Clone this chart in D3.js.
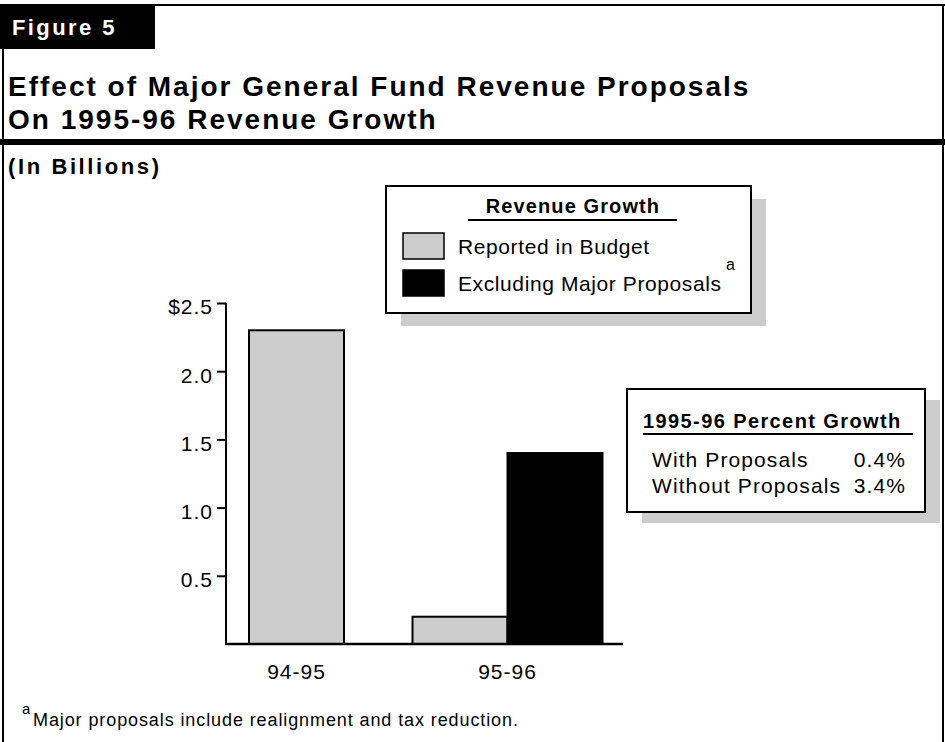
<!DOCTYPE html>
<html>
<head>
<meta charset="utf-8">
<script src="https://cdn.jsdelivr.net/npm/d3@7/dist/d3.min.js"></script>
<style>
  html, body { margin: 0; padding: 0; background: #fff; }
  svg { display: block; }
  text { font-family: "Liberation Sans", Arial, Helvetica, sans-serif; fill: #000; }
</style>
</head>
<body>
<svg id="chart" width="945" height="742"></svg>
<script>
// Fiscal years on the horizontal axis
const categories = ["94-95", "95-96"];
// Revenue growth, billions of dollars (null = not shown)
const reportedInBudget = [2.3, 0.2];
const excludingMajorProposals = [null, 1.4];
// Series names as shown in the legend
const seriesNames = ["Reported in Budget", "Excluding Major Proposals"];
// Y-axis ticks
const yTicks = [0.5, 1.0, 1.5, 2.0, 2.5];
const yTickLabels = ["0.5", "1.0", "1.5", "2.0", "$2.5"];
// Percent growth table
const growthLabels = ["With Proposals", "Without Proposals"];
const growthValues = ["0.4%", "3.4%"];

const series = [
  { name: seriesNames[0], values: reportedInBudget, fill: "#cccccc" },
  { name: seriesNames[1], values: excludingMajorProposals, fill: "#000000" }
];

const svg = d3.select("#chart");
const FONT = '"Liberation Sans", Arial, Helvetica, sans-serif';

// ---- page frame ----
svg.append("rect").attr("width", 945).attr("height", 742).attr("fill", "#fff");
svg.append("line").attr("x1", 0).attr("x2", 945).attr("y1", 5).attr("y2", 5)
  .attr("stroke", "#000").attr("stroke-width", 2);
svg.append("line").attr("x1", 3).attr("x2", 3).attr("y1", 5).attr("y2", 742)
  .attr("stroke", "#000").attr("stroke-width", 2);
svg.append("line").attr("x1", 943).attr("x2", 943).attr("y1", 5).attr("y2", 742)
  .attr("stroke", "#000").attr("stroke-width", 2);

// figure tab
svg.append("rect").attr("x", 0).attr("y", 4).attr("width", 155).attr("height", 45).attr("fill", "#000");
svg.append("text").attr("x", 12).attr("y", 35)
  .style("font-size", "22px").style("font-weight", "bold").style("letter-spacing", "2.4px")
  .style("fill", "#fff").text("Figure 5");

// title
const titleLines = ["Effect of Major General Fund Revenue Proposals", "On 1995-96 Revenue Growth"];
svg.append("g").selectAll("text").data(titleLines).join("text")
  .attr("x", 8).attr("y", (d, i) => 96 + i * 33)
  .style("font-size", "28px").style("font-weight", "bold").style("letter-spacing", "2px")
  .text(d => d);

// heavy rule under title
svg.append("rect").attr("x", 0).attr("y", 139).attr("width", 945).attr("height", 6).attr("fill", "#000");

svg.append("text").attr("x", 8).attr("y", 174)
  .style("font-size", "22px").style("font-weight", "bold").style("letter-spacing", "2.6px")
  .text("(In Billions)");

// ---- chart ----
const y = d3.scaleLinear().domain([0, 2.5]).range([644, 303]);
const x = d3.scaleBand().domain(categories).range([191, 613]).paddingInner(0).paddingOuter(0);
const barW = 95;

// bars: within each category, the present series sit side by side, centred
const barData = [];
categories.forEach((c, ci) => {
  const present = series.filter(s => s.values[ci] != null);
  const inner = d3.scaleBand().domain(present.map(s => s.name))
    .range([x(c) + x.bandwidth() / 2 - barW * present.length / 2,
            x(c) + x.bandwidth() / 2 + barW * present.length / 2]);
  present.forEach(s => barData.push({ cat: c, s, v: s.values[ci], x0: inner(s.name), w: inner.bandwidth() }));
});

svg.append("g").selectAll("rect").data(barData).join("rect")
  .attr("x", d => d.x0).attr("width", d => d.w)
  .attr("y", d => y(d.v)).attr("height", d => y(0) - y(d.v))
  .attr("fill", d => d.s.fill)
  .attr("stroke", "#000").attr("stroke-width", 2);

// y axis
const yAxis = d3.axisLeft(y).tickValues(yTicks)
  .tickFormat((d, i) => yTickLabels[i]).tickSize(9).tickSizeOuter(0).tickPadding(4);
const gy = svg.append("g").attr("transform", "translate(226,0)").call(yAxis);
gy.select(".domain").attr("stroke-width", 2).attr("d", `M0,${y(0)}V${y(2.5)}`);
gy.selectAll(".tick line").attr("stroke-width", 2);
gy.selectAll(".tick text").style("font-size", "21px").style("font-family", FONT)
  .style("letter-spacing", "1px").attr("dy", "0.52em").attr("fill", "#000");

// x axis baseline and category labels
svg.append("line").attr("x1", 225).attr("x2", 623).attr("y1", y(0)).attr("y2", y(0))
  .attr("stroke", "#000").attr("stroke-width", 2.5);
svg.append("g").selectAll("text").data(categories).join("text")
  .attr("x", d => x(d) + x.bandwidth() / 2).attr("y", 679)
  .attr("text-anchor", "middle").style("font-size", "21px").style("letter-spacing", "1px")
  .text(d => d);

// ---- legend ----
const lg = svg.append("g").attr("transform", "translate(386,186)");
lg.append("rect").attr("x", 15).attr("y", 13).attr("width", 365).attr("height", 127).attr("fill", "#cccccc");
lg.append("rect").attr("width", 365).attr("height", 127).attr("fill", "#fff")
  .attr("stroke", "#000").attr("stroke-width", 2);
lg.append("text").attr("x", 187).attr("y", 27).attr("text-anchor", "middle")
  .style("font-size", "20px").style("font-weight", "bold").style("letter-spacing", "1.1px")
  .text("Revenue Growth");
lg.append("line").attr("x1", 82).attr("x2", 291).attr("y1", 34).attr("y2", 34)
  .attr("stroke", "#000").attr("stroke-width", 2);
const li = lg.append("g").selectAll("g").data(series).join("g")
  .attr("transform", (d, i) => `translate(17,${47 + i * 37})`);
li.append("rect").attr("width", 41).attr("height", 26).attr("fill", d => d.fill)
  .attr("stroke", "#000").attr("stroke-width", 1.5);
li.append("text").attr("x", 55).attr("y", 21).style("font-size", "21px").style("letter-spacing", "0.6px")
  .text(d => d.name);
// footnote marker on the second legend entry
lg.append("text").attr("x", 340).attr("y", 84).style("font-size", "16px").text("a");

// ---- percent growth box ----
const pg = svg.append("g").attr("transform", "translate(627,389)");
pg.append("rect").attr("x", 15).attr("y", 11).attr("width", 298).attr("height", 123).attr("fill", "#cccccc");
pg.append("rect").attr("width", 298).attr("height", 123).attr("fill", "#fff")
  .attr("stroke", "#000").attr("stroke-width", 2);
pg.append("text").attr("x", 16).attr("y", 39)
  .style("font-size", "20px").style("font-weight", "bold").style("letter-spacing", "1.4px")
  .text("1995-96 Percent Growth");
pg.append("line").attr("x1", 16).attr("x2", 286).attr("y1", 45).attr("y2", 45)
  .attr("stroke", "#000").attr("stroke-width", 2);
const rows = pg.append("g").selectAll("g").data(growthLabels).join("g")
  .attr("transform", (d, i) => `translate(0,${78 + i * 26})`);
rows.append("text").attr("x", 25).style("font-size", "21px").style("letter-spacing", "1.1px").text(d => d);
rows.append("text").attr("x", 279).attr("text-anchor", "end").style("font-size", "21px")
  .style("letter-spacing", "1.1px").text((d, i) => growthValues[i]);

// ---- footnote ----
svg.append("text").attr("x", 22).attr("y", 714).style("font-size", "15px").text("a");
svg.append("text").attr("x", 33).attr("y", 726).style("font-size", "18px").style("letter-spacing", "0.9px")
  .text("Major proposals include realignment and tax reduction.");
</script>
</body>
</html>
